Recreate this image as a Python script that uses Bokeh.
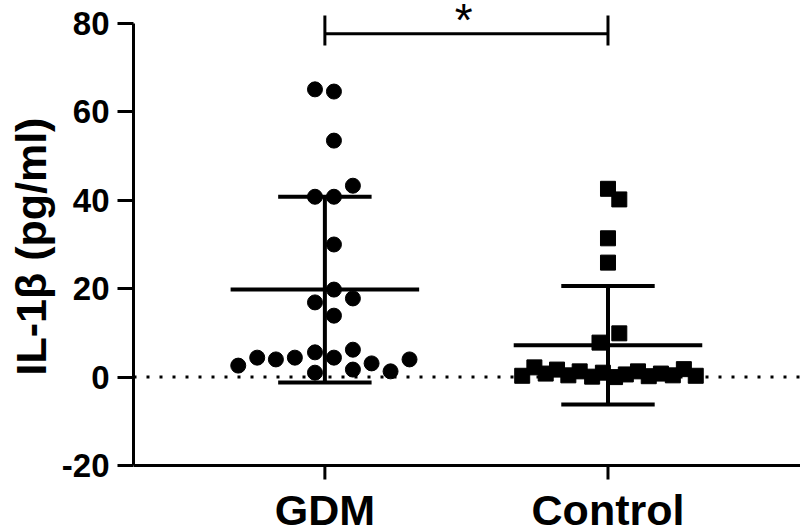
import numpy as np
from bokeh.plotting import figure
from bokeh.models import FixedTicker, Range1d, Span, Title
from bokeh.core.properties import value
from bokeh.embed import file_html
from bokeh.resources import INLINE

# ---------------- data ----------------
categories = ["GDM", "Control"]

gdm_values = [65.1, 64.6, 53.5, 43.3, 40.8, 40.8, 30.0, 19.8, 16.9, 17.8, 13.9,
              2.6, 4.4, 4.0, 4.4, 5.6, 4.4, 6.2, 3.1, 1.3, 4.0, 1.0, 1.7]
gdm_jitter = [-0.035, 0.032, 0.032, 0.099, -0.035, 0.032, 0.032, 0.032, -0.035, 0.099, 0.032,
              -0.306, -0.239, -0.173, -0.106, -0.035, 0.032, 0.099, 0.165, 0.232, 0.299, -0.035, 0.099]

control_values = [42.6, 40.2, 31.4, 25.9, 9.9, 7.8,
                  0.3, 2.2, 0.8, 1.7, 0.4, 1.3, 0.1, 1.0, 0.0, 0.6, 1.3, 0.2, 0.8, 0.4, 1.8, 0.3]
control_jitter = [0.0, 0.04, 0.0, 0.0, 0.04, -0.03,
                  -0.303, -0.26, -0.22, -0.18, -0.14, -0.10, -0.056, -0.018, 0.025, 0.063,
                  0.106, 0.144, 0.187, 0.229, 0.268, 0.31]

group_means = [19.8, 7.2]
group_sds = [21.0, 13.4]

y_ticks = [-20, 0, 20, 40, 60, 80]
y_tick_labels = ["-20", "0", "20", "40", "60", "80"]
y_label = "IL-1\u03b2 (pg/ml)"
sig_text = "*"
sig_level = 77.7

# ---------------- figure ----------------
FONT = "Liberation Sans"
pos = [i + 1 for i in range(len(categories))]
X_START, X_END = 0.324, 2.68
Y_START, Y_END = -34.93, 85.2
Y_AXIS_MIN, Y_AXIS_MAX = y_ticks[0], y_ticks[-1]
PX = 4.42  # pixels per data unit (vertical)

p = figure(width=800, height=531, output_backend="svg", toolbar_location=None,
           x_range=Range1d(X_START, X_END), y_range=Range1d(Y_START, Y_END),
           min_border_left=131, min_border_right=0, min_border_top=0,
           min_border_bottom=0)
p.outline_line_color = None
p.grid.visible = False
p.background_fill_color = "white"
p.border_fill_color = "white"

# zero dotted line
p.add_layout(Span(location=0, dimension="width", line_color="black",
                  line_width=3, line_dash="3 10"))

# points
p.scatter([pos[0] + j for j in gdm_jitter], gdm_values, marker="circle",
          size=15, fill_color="black", line_color="black")
p.scatter([pos[1] + j for j in control_jitter], control_values, marker="square",
          size=15, fill_color="black", line_color="black")

# mean +/- SD
lo = [m - s for m, s in zip(group_means, group_sds)]
hi = [m + s for m, s in zip(group_means, group_sds)]
p.segment(pos, lo, pos, hi, line_color="black", line_width=4)
p.segment([x - 0.165 for x in pos], hi, [x + 0.165 for x in pos], hi, line_color="black", line_width=4)
p.segment([x - 0.165 for x in pos], lo, [x + 0.165 for x in pos], lo, line_color="black", line_width=4)
p.segment([x - 0.333 for x in pos], group_means, [x + 0.333 for x in pos], group_means,
          line_color="black", line_width=4)

# significance bracket
p.segment([pos[0]], [sig_level], [pos[1]], [sig_level], line_color="black", line_width=3)
p.segment(pos, [sig_level - 2.7] * 2, pos, [sig_level + 4.1] * 2, line_color="black", line_width=3)
p.text([(pos[0] + pos[1]) / 2 - 0.01], [sig_level + 3.2], text=[sig_text],
       text_font=value(FONT), text_font_size="46px", text_align="center",
       text_baseline="alphabetic", text_color="black")

# x axis (drawn in the plot frame so the big category labels can reach the bottom edge)
p.segment([X_START], [Y_AXIS_MIN], [X_END], [Y_AXIS_MIN], line_color="black", line_width=3)
p.segment(pos, [Y_AXIS_MIN] * len(pos), pos, [Y_AXIS_MIN - 14 / PX] * len(pos),
          line_color="black", line_width=3)
p.text(pos, [Y_AXIS_MIN - 44.5 / PX] * len(pos), text=categories,
       text_font=value(FONT), text_font_style="bold", text_font_size="43px",
       text_align="center", text_baseline="alphabetic", text_color="black")
p.xaxis.visible = False

# y axis
p.yaxis.ticker = FixedTicker(ticks=y_ticks)
p.yaxis.major_label_overrides = {t: s for t, s in zip(y_ticks, y_tick_labels)}
p.yaxis.bounds = (Y_AXIS_MIN, Y_AXIS_MAX)
p.yaxis.major_label_text_font = FONT
p.yaxis.major_label_text_font_style = "bold"
p.yaxis.major_label_text_font_size = "33px"
p.yaxis.major_label_text_color = "black"
p.yaxis.major_label_standoff = 8
p.yaxis.major_tick_out = 16
p.yaxis.major_tick_in = 0
p.yaxis.minor_tick_line_color = None
p.yaxis.axis_line_width = 3
p.yaxis.major_tick_line_width = 3

# y-axis title placed as a vertical title so its position along the axis can be set
p.add_layout(Title(text=y_label, align="left", offset=156, standoff=8,
                   text_font=FONT, text_font_style="bold", text_font_size="43px",
                   text_color="black"), "left")

open("out.html", "w").write(file_html(p, INLINE))
